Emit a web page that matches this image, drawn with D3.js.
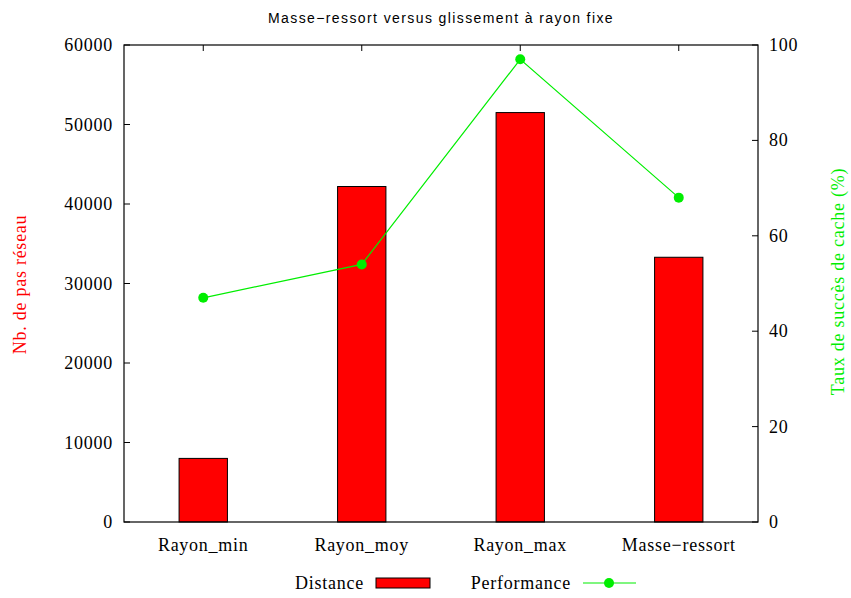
<!DOCTYPE html>
<html>
<head>
<meta charset="utf-8">
<script src="https://cdn.jsdelivr.net/npm/d3@7"></script>
<style>
  body { margin: 0; background: #fff; }
  svg text { font-family: "Liberation Serif", "Times New Roman", serif; font-size: 18px; letter-spacing: 0.75px; }
</style>
</head>
<body>
<div class="container"></div>
<script>
var categories = ['Rayon_min', 'Rayon_moy', 'Rayon_max', 'Masse\u2212ressort'];
var distance = [8000, 42200, 51500, 33300];
var performance = [47, 54, 97, 68];
var leftTicks = [0, 10000, 20000, 30000, 40000, 50000, 60000];
var rightTicks = [0, 20, 40, 60, 80, 100];

var drawChart = function () {
    const WIDTH = 851;
    const HEIGHT = 598;
    var margin = { left: 124, right: 93, top: 45, bottom: 76 };
    var innerW = WIDTH - margin.left - margin.right;
    var innerH = HEIGHT - margin.top - margin.bottom;
    const TICK = 6;
    const GREEN = '#00ee00';

    var svg = d3.select('.container')
        .append('svg')
        .attr('width', WIDTH)
        .attr('height', HEIGHT);

    var x = d3.scaleBand().domain(categories).range([0, innerW]).padding(0);
    var yL = d3.scaleLinear().domain([0, 60000]).range([innerH, 0]);
    var yR = d3.scaleLinear().domain([0, 100]).range([innerH, 0]);
    var barW = x.bandwidth() * 0.305;

    var g = svg.append('g')
        .attr('transform', 'translate(' + margin.left + ',' + margin.top + ')');

    // title
    svg.append('text')
        .attr('x', 441)
        .attr('y', 23)
        .attr('text-anchor', 'middle')
        .style('font-family', '"Liberation Sans", Arial, sans-serif')
        .style('font-size', '14px')
        .style('letter-spacing', '1.4px')
        .text('Masse\u2212ressort versus glissement \u00e0 rayon fixe');

    // left ticks
    leftTicks.forEach(function (t) {
        g.append('line')
            .attr('x1', 0).attr('x2', TICK)
            .attr('y1', yL(t)).attr('y2', yL(t))
            .style('stroke', 'black').style('stroke-width', 1);
        g.append('text')
            .attr('x', -11).attr('y', yL(t) + 6)
            .attr('text-anchor', 'end')
            .text(t);
    });

    // right ticks
    rightTicks.forEach(function (t) {
        g.append('line')
            .attr('x1', innerW).attr('x2', innerW - TICK)
            .attr('y1', yR(t)).attr('y2', yR(t))
            .style('stroke', 'black').style('stroke-width', 1);
        g.append('text')
            .attr('x', innerW + 11).attr('y', yR(t) + 6)
            .attr('text-anchor', 'start')
            .text(t);
    });

    // category ticks top and bottom + labels
    categories.forEach(function (c) {
        var cx = x(c) + x.bandwidth() / 2;
        g.append('line')
            .attr('x1', cx).attr('x2', cx)
            .attr('y1', 0).attr('y2', TICK)
            .style('stroke', 'black').style('stroke-width', 1);
        g.append('line')
            .attr('x1', cx).attr('x2', cx)
            .attr('y1', innerH).attr('y2', innerH - TICK)
            .style('stroke', 'black').style('stroke-width', 1);
        g.append('text')
            .attr('x', cx).attr('y', innerH + 29)
            .attr('text-anchor', 'middle')
            .text(c);
    });

    // bars
    g.selectAll('rect.bar')
        .data(distance)
        .enter()
        .append('rect')
        .attr('class', 'bar')
        .attr('x', function (d, i) { return x(categories[i]) + x.bandwidth() / 2 - barW / 2; })
        .attr('y', function (d) { return yL(d); })
        .attr('width', barW)
        .attr('height', function (d) { return innerH - yL(d); })
        .style('fill', '#ff0000')
        .style('stroke', 'black')
        .style('stroke-width', 1);

    // line
    var line = d3.line()
        .x(function (d, i) { return x(categories[i]) + x.bandwidth() / 2; })
        .y(function (d) { return yR(d); });

    g.append('path')
        .datum(performance)
        .attr('d', line)
        .style('fill', 'none')
        .style('stroke', GREEN)
        .style('stroke-width', 1.2);

    g.selectAll('circle.pt')
        .data(performance)
        .enter()
        .append('circle')
        .attr('class', 'pt')
        .attr('cx', function (d, i) { return x(categories[i]) + x.bandwidth() / 2; })
        .attr('cy', function (d) { return yR(d); })
        .attr('r', 5)
        .style('fill', GREEN);

    // border
    g.append('rect')
        .attr('x', 0).attr('y', 0)
        .attr('width', innerW).attr('height', innerH)
        .style('fill', 'none')
        .style('stroke', 'black')
        .style('stroke-width', 1.2);

    // axis titles
    svg.append('text')
        .attr('transform', 'translate(26,' + (margin.top + innerH / 2 + 1) + ') rotate(-90)')
        .attr('text-anchor', 'middle')
        .style('fill', '#ff0000')
        .text('Nb. de pas r\u00e9seau');

    svg.append('text')
        .attr('transform', 'translate(844,' + (margin.top + innerH / 2 - 2) + ') rotate(-90)')
        .attr('text-anchor', 'middle')
        .style('fill', GREEN)
        .text('Taux de succ\u00e8s de cache (%)');

    // legend
    var ly = 583;
    svg.append('text')
        .attr('x', 364).attr('y', ly + 6)
        .attr('text-anchor', 'end')
        .text('Distance');
    svg.append('rect')
        .attr('x', 376).attr('y', ly - 5)
        .attr('width', 54).attr('height', 10)
        .style('fill', '#ff0000')
        .style('stroke', 'black')
        .style('stroke-width', 1);

    svg.append('text')
        .attr('x', 571).attr('y', ly + 6)
        .attr('text-anchor', 'end')
        .text('Performance');
    svg.append('line')
        .attr('x1', 583).attr('x2', 636)
        .attr('y1', ly).attr('y2', ly)
        .style('stroke', GREEN)
        .style('stroke-width', 1.2);
    svg.append('circle')
        .attr('cx', 609).attr('cy', ly)
        .attr('r', 5)
        .style('fill', GREEN);
};
window.onload = drawChart;
</script>
</body>
</html>
